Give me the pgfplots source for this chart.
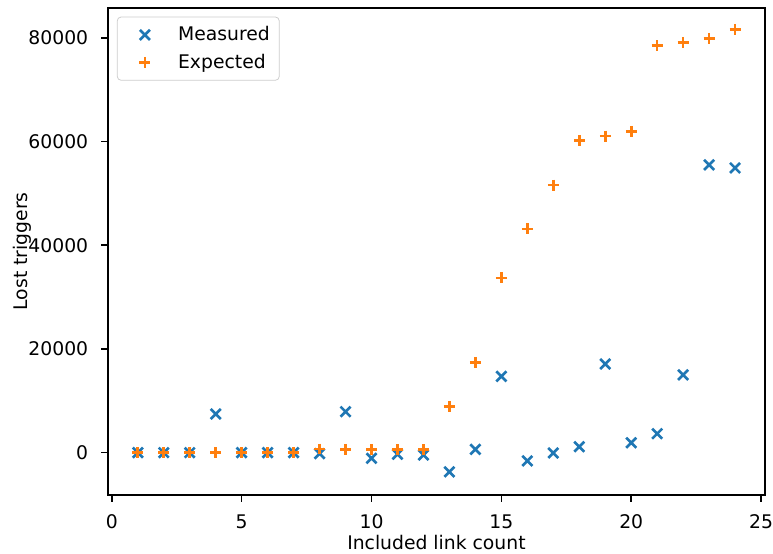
\documentclass[border=0pt]{standalone}
\usepackage{fontspec}
\setmainfont{DejaVu Sans}
\usepackage{pgfplots}
\pgfplotsset{compat=1.18}
\definecolor{tabblue}{HTML}{1F77B4}
\definecolor{taborange}{HTML}{FF7F0E}
\pgfplotsset{
    mplmark/.style={legend image code/.code={\draw[##1] plot coordinates {(11pt,0pt)}; \path (0pt,0pt) (26pt,0pt);}},
}
\begin{document}
\begin{tikzpicture}
\begin{axis}[
    scale only axis,
    width=350pt,
    height=259.5pt,
    xmin=-0.15, xmax=25.15,
    ymin=-8170, ymax=85770,
    xtick={0,5,10,15,20,25},
    ytick={0,20000,40000,60000,80000},
    scaled y ticks=false,
    /pgf/number format/.cd, fixed, 1000 sep={}, assume math mode=true,
    /pgfplots/.cd,
    tick align=outside,
    major tick length=3.5pt,
    tick style={black, line width=0.8pt},
    axis line style={line width=0.8pt},
    xtick pos=bottom, ytick pos=left,
    tick label style={font=\fontsize{10}{12}\selectfont},
    yticklabel style={xshift=-3.5pt},
    xticklabel style={yshift=-3.5pt},
    label style={font=\fontsize{10}{12}\selectfont},
    xlabel={Included link count},
    ylabel={Lost triggers},
    every axis x label/.style={at={(axis description cs:0.5,-0.112)}, anchor=base},
    every axis y label/.style={at={(axis description cs:-0.131,0.5)}, rotate=90, anchor=center},
    legend style={at={(0.0137,0.982)}, anchor=north west, draw=black!20, rounded corners=2pt,
        font=\fontsize{10}{12}\selectfont, row sep=1.5pt, inner xsep=3pt, inner ysep=3pt},
    legend cell align=left,
]
\addplot[only marks, mark=x, mark size=3.8pt, color=tabblue, line width=1.4pt, mplmark] coordinates {
    (1,0) (2,0) (3,0) (4,7450) (5,0) (6,0) (7,0) (8,-200)
    (9,7900) (10,-1100) (11,-300) (12,-450) (13,-3700) (14,630)
    (15,14700) (16,-1600) (17,-60) (18,1150) (19,17100) (20,1900)
    (21,3650) (22,15000) (23,55500) (24,54900)
};
\addlegendentry{Measured}
\addplot[only marks, mark=+, mark size=2.9pt, color=taborange, line width=1.4pt, mplmark] coordinates {
    (1,0) (2,0) (3,0) (4,0) (5,0) (6,0) (7,0) (8,700)
    (9,640) (10,550) (11,550) (12,550) (13,8950) (14,17400)
    (15,33700) (16,43150) (17,51600) (18,60170) (19,61050) (20,61950)
    (21,78500) (22,79150) (23,79920) (24,81650)
};
\addlegendentry{Expected}
\end{axis}
\pgfresetboundingbox
\useasboundingbox (-57.5pt,-30.9pt) rectangle (354.3pt,263.7pt);
\end{tikzpicture}
\end{document}
